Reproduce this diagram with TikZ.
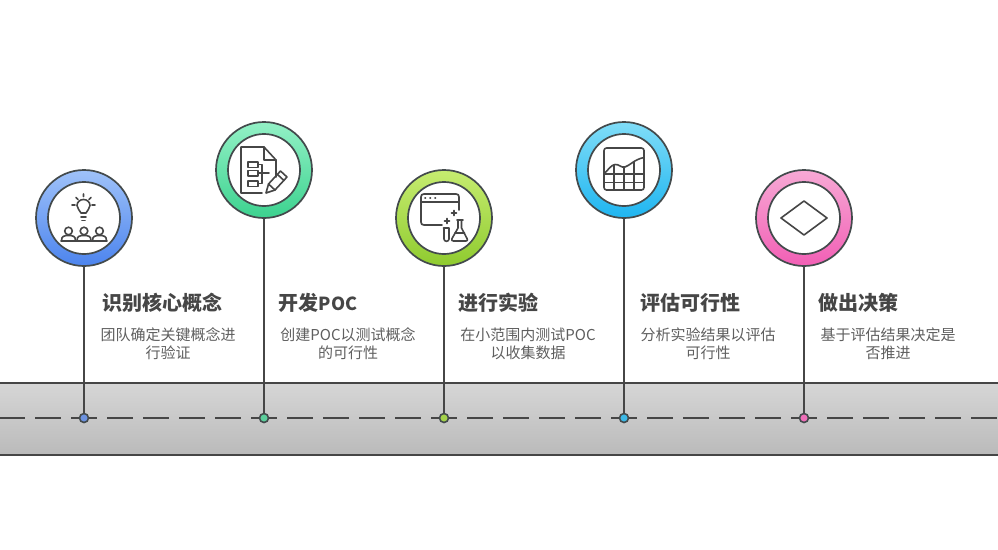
\documentclass[tikz,border=0pt]{standalone}
\usepackage{fontspec}
\setmainfont{Noto Sans CJK SC}
\definecolor{ink}{HTML}{464646}
\definecolor{bodyc}{HTML}{5F5F5F}
\definecolor{edgec}{HTML}{434A4C}
\definecolor{blueT}{HTML}{9FC2F9}\definecolor{blueB}{HTML}{4C84EE}
\definecolor{greenT}{HTML}{93F1C6}\definecolor{greenB}{HTML}{3CD28F}
\definecolor{limeT}{HTML}{C6EC70}\definecolor{limeB}{HTML}{8FCB2F}
\definecolor{cyanT}{HTML}{80DDF8}\definecolor{cyanB}{HTML}{1FB5F0}
\definecolor{pinkT}{HTML}{F7A9D5}\definecolor{pinkB}{HTML}{F25FB5}
\definecolor{blueP}{HTML}{6C92E0}\definecolor{greenP}{HTML}{5CCF9C}
\definecolor{limeP}{HTML}{A4D24A}\definecolor{cyanP}{HTML}{3CB8E6}
\definecolor{pinkP}{HTML}{EE6FB8}
\tikzset{
  ring/.style 2 args={circle,draw=edgec,line width=1.7pt,minimum size=96pt,inner sep=0pt,top color=#1,bottom color=#2},
  hole/.style={circle,draw=edgec,line width=1.7pt,fill=white,minimum size=72pt,inner sep=0pt},
  stem/.style={draw=ink,line width=2pt},
  pin/.style={circle,draw=edgec,line width=1.6pt,fill=#1,minimum size=9pt,inner sep=0pt},
  icon/.style={draw=ink,line width=1.6pt,line join=round,line cap=round,fill=none},
  headline/.style={font=\fontsize{20pt}{23pt}\selectfont\bfseries,text=ink,inner sep=0pt,anchor=center},
  blurb/.style={font=\fontsize{15pt}{18pt}\selectfont,text=bodyc,inner sep=0pt,align=center,anchor=north},
}
\begin{document}
\begin{tikzpicture}[x=1pt,y=-1pt]
\useasboundingbox (0,0) rectangle (998,549);
\fill[white] (0,0) rectangle (998,549);
% band
\node[rectangle,minimum width=998pt,minimum height=72pt,inner sep=0pt,outer sep=0pt,top color=black!16,bottom color=black!27] (band) at (499,419) {};
\draw[draw=ink,line width=2pt] (band.north west) -- (band.north east);
\draw[draw=ink,line width=2pt] (band.south west) -- (band.south east);
\coordinate (roadL) at (0,418);
\coordinate (roadR) at (998,418);
\draw[draw=ink,line width=2pt,dash pattern=on 26pt off 10pt,dash phase=1pt] (roadL) -- (roadR);
% rings
\node[ring={blueT}{blueB}] (r1) at (84,218) {};
\node[ring={greenT}{greenB}] (r2) at (264,170) {};
\node[ring={limeT}{limeB}] (r3) at (444,218) {};
\node[ring={cyanT}{cyanB}] (r4) at (624,170) {};
\node[ring={pinkT}{pinkB}] (r5) at (804,218) {};
\node[hole] (h1) at (r1) {};
\node[hole] (h2) at (r2) {};
\node[hole] (h3) at (r3) {};
\node[hole] (h4) at (r4) {};
\node[hole] (h5) at (r5) {};
% pins
\node[pin=blueP] (p1) at (84,418) {};
\node[pin=greenP] (p2) at (264,418) {};
\node[pin=limeP] (p3) at (444,418) {};
\node[pin=cyanP] (p4) at (624,418) {};
\node[pin=pinkP] (p5) at (804,418) {};
\draw[stem] (r1.south) -- (p1.north);
\draw[stem] (r2.south) -- (p2.north);
\draw[stem] (r3.south) -- (p3.north);
\draw[stem] (r4.south) -- (p4.north);
\draw[stem] (r5.south) -- (p5.north);
% titles
\node[headline] (t1) at (162,302.5) {识别核心概念};
\node[headline] (t2) at (318,302.5) {开发{\fontsize{18pt}{23pt}\selectfont POC}};
\node[headline] (t3) at (498,302.5) {进行实验};
\node[headline] (t4) at (690,302.5) {评估可行性};
\node[headline] (t5) at (858,302.5) {做出决策};
% descriptions
\node[blurb] (d1) at (168,327.5) {团队确定关键概念进\\行验证};
\node[blurb] (d2) at (348,327.5) {创建POC以测试概念\\的可行性};
\node[blurb] (d3) at (528,327.5) {在小范围内测试POC\\以收集数据};
\node[blurb] (d4) at (708,327.5) {分析实验结果以评估\\可行性};
\node[blurb] (d5) at (888,327.5) {基于评估结果决定是\\否推进};
% icon 1: bulb and audience
\draw[icon] (81,213) .. controls (80,210) and (77,209) .. (77,205.5) .. controls (77,202) and (80,199.5) .. (83.5,199.5) .. controls (87,199.5) and (90,202) .. (90,205.5) .. controls (90,209) and (87,210) .. (86,213) -- cycle;
\draw[icon] (81,217) -- (86,217) (82,220.5) -- (85,220.5);
\draw[icon] (72,205) -- (75,205) (92,205) -- (95,205) (76,197.5) -- (78,199.5) (91,197.5) -- (89,199.5) (83.5,194) -- (83.5,196.5);
\foreach \cx in {68.5,84,99.5}{
  \draw[icon] (\cx,231) circle[radius=3.8pt];
  \draw[icon] (\cx-7,240.5) .. controls (\cx-7,236) and (\cx-4,235.5) .. (\cx,235.5) .. controls (\cx+4,235.5) and (\cx+7,236) .. (\cx+7,240.5);
}
\draw[icon] (61,241) -- (107,241);
% icon 2: document and pencil
\draw[icon] (262,193) -- (241,193) -- (241,147) -- (264,147) -- (276,160) -- (276,177);
\draw[icon] (264,147) -- (264,160) -- (276,160);
\draw[icon] (248,162) rectangle (258,167.5);
\draw[icon] (248,170.5) rectangle (258,176);
\draw[icon] (248,181) rectangle (258,186.5);
\draw[icon] (258,164.5) -- (262,164.5) -- (262,183.5) -- (258,183.5) (258,173) -- (269,173);
\draw[icon] (266,193) -- (268.5,184) -- (280.5,171) -- (287,177) -- (275,190) -- cycle;
\draw[icon] (268.5,184) -- (275,190) (277.5,174.5) -- (284,180.5);
% icon 3: window and flask
\draw[icon] (442,225) -- (424,225) .. controls (422,225) and (421,224) .. (421,222) -- (421,197) .. controls (421,195) and (422,194) .. (424,194) -- (456,194) .. controls (458,194) and (459,195) .. (459,197) -- (459,210);
\draw[icon] (421,202) -- (459,202);
\draw[icon,line width=1.8pt] (425,198) -- (425.5,198) (430,198) -- (430.5,198) (435,198) -- (435.5,198);
\draw[icon] (451.5,213) -- (456.5,213) (454,210.5) -- (454,215.5) (444.5,221) -- (449.5,221) (447,218.5) -- (447,223.5);
\draw[icon] (443.5,228) -- (449,228) (444,228) -- (444,239) .. controls (444,242) and (449,242) .. (449,239) -- (449,228);
\draw[icon] (457,220) -- (463,220) (458,220) -- (458,228) -- (452,238.5) .. controls (451,240) and (452,241) .. (453.5,241) -- (466,241) .. controls (467.5,241) and (468,240) .. (467,238.5) -- (461.5,228) -- (461.5,220);
\draw[icon] (455,233) -- (464.5,233);
% icon 4: chart grid
\draw[icon,rounded corners=2.5pt] (604,148) rectangle (644,190);
\draw[icon] (604,174) .. controls (608,170) and (611,165) .. (615,164.5) .. controls (619,164) and (621,168) .. (625,167) .. controls (630,165.5) and (634,159.5) .. (644,157.5);
\draw[icon] (604,174) -- (644,174) (604,182.5) -- (644,182.5);
\draw[icon] (614,165) -- (614,190) (624,167) -- (624,190) (634,162) -- (634,190);
% icon 5: diamond
\draw[icon] (781,218) -- (804,201) -- (827,218) -- (804,235) -- cycle;
\end{tikzpicture}
\end{document}
